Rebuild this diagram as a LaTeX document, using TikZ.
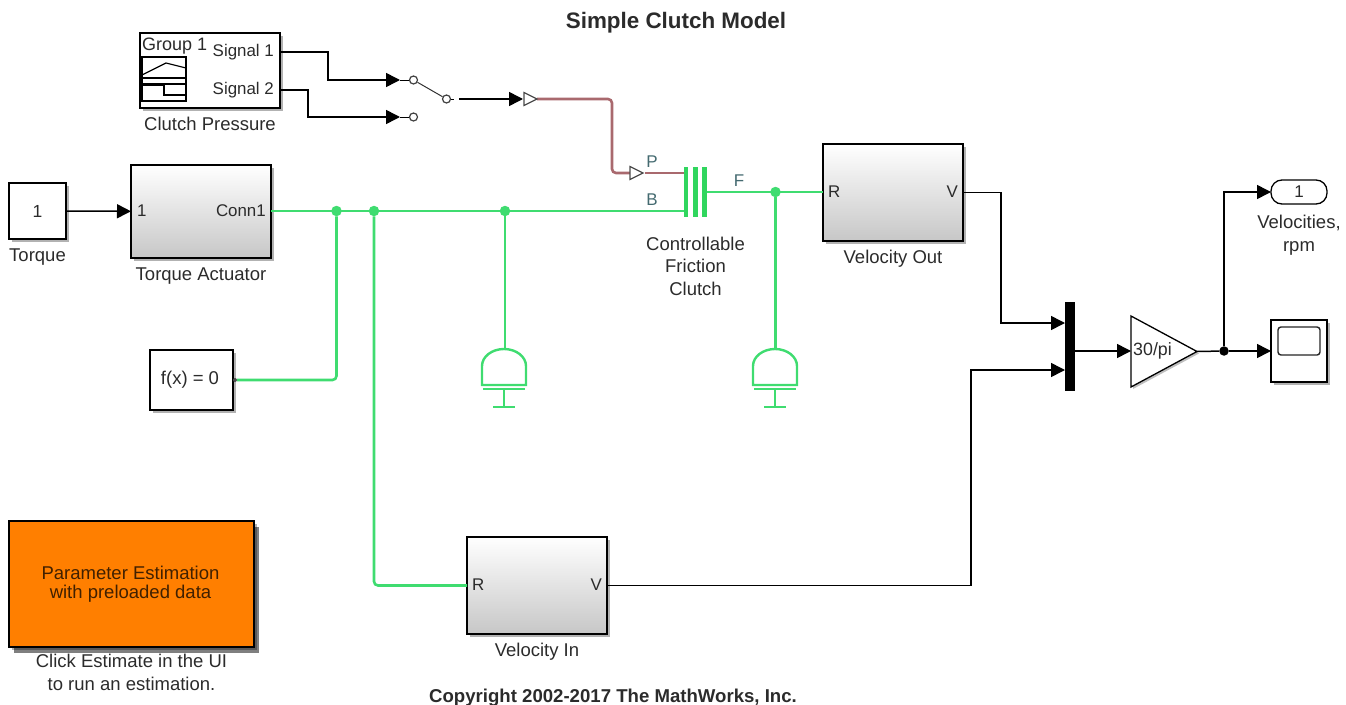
\documentclass[tikz,border=0pt]{standalone}
\usepackage{fontspec}
\setmainfont{Liberation Sans}
\definecolor{clPhys}{HTML}{3FDC70}
\definecolor{clBar}{HTML}{30D65E}
\definecolor{clPress}{HTML}{A9696E}
\definecolor{clPort}{HTML}{446A70}
\definecolor{clText}{HTML}{2B2B2B}
\definecolor{clOrange}{HTML}{FF7F00}
\usetikzlibrary{arrows.meta,positioning,calc,shadows,shapes.geometric}
\tikzset{
  block/.style={rectangle, draw=black, line width=1.3pt, fill=white, outer sep=0pt, inner sep=0pt,
                text=clText, font=\fontsize{17.5}{18}\selectfont,
                drop shadow={shadow xshift=3pt, shadow yshift=-3pt, fill=black, opacity=0.3}},
  subsys/.style={block, top color=white, middle color=black!4, bottom color=black!22, minimum width=140pt},
  blocklabel/.style={font=\fontsize{18.5}{22.5}\selectfont, text=clText, align=center, inner sep=0pt},
  portlabel/.style={font=\fontsize{16.9}{18}\selectfont, text=clText, inner sep=0pt},
  physlabel/.style={font=\fontsize{17}{18}\selectfont, text=clPort, inner sep=0pt},
  titletext/.style={font=\bfseries\fontsize{22.4}{24}\selectfont, text=clText, inner sep=0pt},
  signal/.style={-{Triangle[length=14pt,width=14pt]}, line width=1.5pt, draw=black, rounded corners=0pt},
  plainsig/.style={line width=1.5pt, draw=black},
  phys/.style={line width=2.6pt, draw=clPhys, rounded corners=4pt},
  press/.style={line width=2.6pt, draw=clPress, rounded corners=4pt},
  physdot/.style={circle, fill=clPhys, inner sep=0pt, minimum size=10.5pt},
  sigdot/.style={circle, fill=black, inner sep=0pt, minimum size=9.5pt},
  swport/.style={circle, draw=black!75, fill=white, line width=1.2pt, inner sep=0pt, minimum size=8pt},
  opentri/.style={draw=black!70, fill=white, line width=1.2pt, line join=miter},
  clutchbar/.style={rectangle, fill=clBar, inner sep=0pt, minimum height=50pt, outer sep=0pt},
  mechref/.pic={
    \draw[line width=2.4pt, draw=clPhys] (-22,36) -- (-22,17) arc[start angle=180, end angle=360, x radius=22, y radius=17] -- (22,36) -- cycle;
    \draw[line width=2.4pt, draw=clPhys] (-21,40) -- (21,40);
    \draw[line width=2.4pt, draw=clPhys] (0,40) -- (0,58);
    \draw[line width=2.4pt, draw=clPhys] (-11,58) -- (11,58);
    \coordinate (-top) at (0,0);
  },
}
\begin{document}
\begin{tikzpicture}[x=1pt,y=-1pt]
  \useasboundingbox (0,0) rectangle (1346,704);
  \node[titletext] (title) at (676,22.5) {Simple Clutch Model};
  \node[titletext, font=\bfseries\fontsize{18.6}{20}\selectfont] (copyr) at (613,698) {Copyright 2002-2017 The MathWorks, Inc.};

  % signal builder
  \node[block, minimum width=140pt, minimum height=75pt] (builder) at (210,70.5) {};
  \node[blocklabel, below=9pt of builder] (builderlab) {Clutch Pressure};
  \node[portlabel, anchor=east] (sig1) at (274,52) {Signal 1};
  \node[portlabel, anchor=east] (sig2) at (274,90) {Signal 2};
  \node[portlabel, anchor=west, font=\fontsize{18}{18}\selectfont] (grp) at (142,46.5) {Group 1};
  \draw[line width=1.2pt] (142,57) rectangle (186,101);
  \draw[line width=1.2pt] (142,78) -- (186,78) (142,84) -- (186,84);
  \draw[line width=1.2pt] (142,75) -- (166,63) -- (186,68);
  \draw[line width=1.2pt] (142,85) -- (164,85) -- (164,95) -- (186,95);
  \coordinate (bout1) at (280,52);
  \coordinate (bout2) at (280,90);

  % switch
  \node[swport] (swa) at (413.5,80) {};
  \node[swport] (swb) at (413.5,117) {};
  \node[swport] (swc) at (446.5,99) {};
  \coordinate (swain) at (400,80);
  \coordinate (swbin) at (400,117);
  \draw[plainsig, line width=1pt] (swain) -- (swa);
  \draw[plainsig, line width=1pt] (swbin) -- (swb);
  \draw[plainsig, line width=1pt, black!80] (swa) -- (swc);
  \draw[signal] (bout1) -| (328,80) -- (swain);
  \draw[signal] (bout2) -| (308,117) -- (swbin);
  \coordinate (swout) at (459,99);
  \coordinate (swgap) at (454,99);
  \draw[plainsig, line width=1pt] (swc) -- (swgap);
  \coordinate (conva) at (523,99);
  \draw[signal] (swout) -- (conva);
  \coordinate (convb) at (630,173);

  % physical lines
  \coordinate (pa) at (537,99);
  \coordinate (pb) at (645,173);
  \coordinate (pc) at (684,173);
  \draw[press] (pa) -- (612,99) -- (612,173) -- (convb);
  \draw[press, rounded corners=0pt] (pb) -- (pc);
  \draw[opentri] (conva) ++(1,-6.5) -- ++(13,6.5) -- ++(-13,6.5) -- cycle;
  \draw[opentri] (convb) ++(0,-6.5) -- ++(13,6.5) -- ++(-13,6.5) -- cycle;

  % clutch
  \node[clutchbar, minimum width=4.5pt] (cl1) at (686,192) {};
  \node[clutchbar, minimum width=5pt] (cl2) at (695.5,192) {};
  \node[clutchbar, minimum width=5pt] (cl3) at (704.5,192) {};
  \node[blocklabel, below=19.5pt of cl2] (cllab) {Controllable\\Friction\\Clutch};
  \node[physlabel] (labp) at (652,162) {P};
  \node[physlabel] (labb) at (652,200) {B};
  \node[physlabel] (labf) at (739,181) {F};

  % torque side
  \node[block, minimum width=57pt, minimum height=56pt] (torque) at (37.5,211) {1};
  \node[blocklabel, below=10pt of torque] (torquelab) {Torque};
  \node[subsys, minimum height=93pt] (actuator) at (201,211.5) {};
  \node[blocklabel, below=10pt of actuator] (actuatorlab) {Torque Actuator};
  \node[portlabel, anchor=west] (actin) at (137,211) {1};
  \node[portlabel, anchor=east] (actconn) at (266,211) {Conn1};
  \draw[signal] (torque) -- (actuator);
  \node[block, minimum width=83pt, minimum height=60pt, font=\fontsize{18.5}{18}\selectfont] (solver) at (191.5,380) {\hspace*{-3pt}f(x) = 0};
  \node[circle, fill=black!70, inner sep=0pt, minimum size=4pt] (solverport) at (235,380) {};

  % velocity sensors
  \node[subsys, minimum height=97pt] (velout) at (893,192.5) {};
  \node[blocklabel, below=9pt of velout] (veloutlab) {Velocity Out};
  \node[portlabel, anchor=west] (veloutr) at (828,192) {R};
  \node[portlabel, anchor=east] (veloutv) at (958,192) {V};
  \node[subsys, minimum height=97pt] (velin) at (537,585.5) {};
  \node[blocklabel, below=9pt of velin] (velinlab) {Velocity In};
  \node[portlabel, anchor=west] (velinr) at (472,585) {R};
  \node[portlabel, anchor=east] (velinv) at (602,585) {V};

  % junctions and references
  \node[physdot] (ja) at (336.5,211) {};
  \node[physdot] (jb) at (374,211) {};
  \node[physdot] (jc) at (505,211) {};
  \node[physdot] (jd) at (775.5,192) {};
  \pic (refa) at (504,349) {mechref};
  \pic (refb) at (775,349) {mechref};
  \coordinate (cla) at (684,211);
  \coordinate (clb) at (707,192);
  \draw[phys] (actuator.east |- cla) -- (cla);
  \draw[phys] (clb) -- (velout.west |- clb);
  \draw[phys] (solverport) -- (ja |- solverport) -- (ja);
  \draw[phys] (jb) -- (jb |- velin) -- (velin);
  \draw[phys] (jc) -- (jc |- refa-top);
  \draw[phys] (jd) -- (jd |- refb-top);

  % mux and output
  \node[rectangle, fill=black, inner sep=0pt, minimum width=10pt, minimum height=89pt] (mux) at (1070,346.5) {};
  \node[isosceles triangle, isosceles triangle apex angle=94, isosceles triangle stretches, draw=black, line width=1.3pt, fill=white, inner sep=0pt, outer sep=0pt,
        minimum width=71pt, minimum height=66pt, shape border rotate=0, anchor=lower side,
        drop shadow={shadow xshift=2pt, shadow yshift=-2pt, fill=black, opacity=0.25}] (gain) at (1131,351.5) {};
  \node[portlabel, anchor=west, font=\fontsize{17.8}{18}\selectfont] (gainlab) at (1133,351) {30/pi};
  \coordinate (muxa) at (1065,323);
  \coordinate (muxb) at (1065,370);
  \draw[signal] (velout.east) -- (1001,192.5) -- (1001,323) -- (muxa);
  \draw[signal] (velin.east) -- (971,585.5) -- (971,370) -- (muxb);
  \coordinate (gainin) at (1131,351);
  \draw[signal] (mux.east |- gainin) -- (gainin);
  \node[rectangle, rounded corners=11pt, draw=black, line width=1.3pt, fill=white, minimum width=56pt, minimum height=24pt, inner sep=0pt, outer sep=0pt, text=clText,
        font=\fontsize{17}{18}\selectfont] (outp) at (1299,192) {1};
  \node[blocklabel, below=11pt of outp] (outplab) {Velocities,\\rpm};
  \node[block, minimum width=56pt, minimum height=62pt] (scope) at (1299,351) {};
  \node[rectangle, rounded corners=3pt, draw=black!85, line width=1.4pt, minimum width=42pt, minimum height=28pt, inner sep=0pt] (scopescr) at (1299,341) {};
  \node[sigdot] (je) at (1224,351) {};
  \draw[plainsig] (gain.apex) -- (je);
  \draw[signal] (je) -- (scope.west);
  \draw[signal] (je) |- (outp.west);

  % estimation button
  \node[block, fill=clOrange, minimum width=245pt, minimum height=126pt, align=center, text=black!75!clOrange, font=\fontsize{18.5}{19}\selectfont,
        drop shadow={shadow xshift=5pt, shadow yshift=-6pt, fill=black, opacity=0.5}] (estim) at (131.5,584) {\hspace*{-2pt}Parameter Estimation\\\hspace*{-2pt}with preloaded data};
  \node[blocklabel, below=7pt of estim] (estimlab) {Click Estimate in the UI\\to run an estimation.};
\end{tikzpicture}
\end{document}
